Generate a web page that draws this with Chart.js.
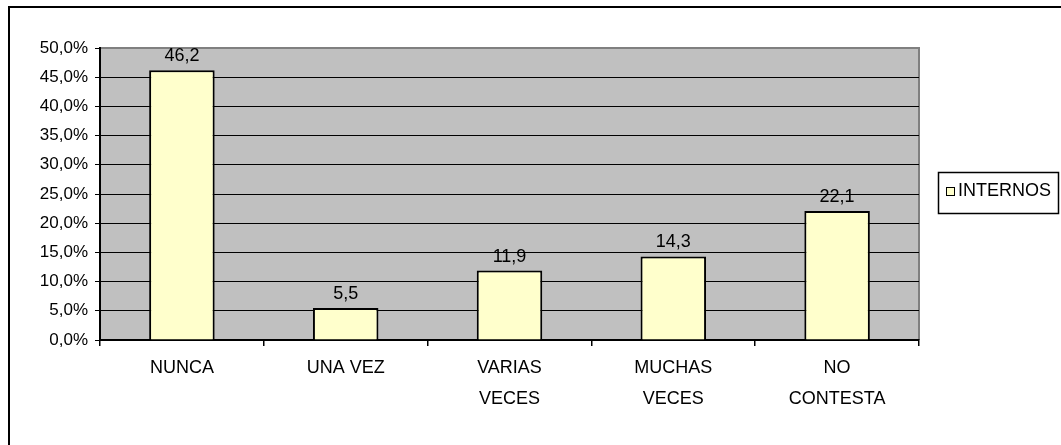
<!DOCTYPE html>
<html>
<head>
<meta charset="utf-8">
<script src="https://cdn.jsdelivr.net/npm/chart.js@4.4.0/dist/chart.umd.min.js"></script>
<style>
  html, body { margin: 0; padding: 0; background: #fff; }
  #wrap { width: 1061px; height: 445px; position: relative; }
</style>
</head>
<body>
<div id="wrap"><canvas id="graficoInternos"></canvas></div>
<script>
const categorias = ['NUNCA', 'UNA VEZ', ['VARIAS', 'VECES'], ['MUCHAS', 'VECES'], ['NO', 'CONTESTA']];
const internos = [46.2, 5.5, 11.9, 14.3, 22.1];
const nombreSerie = 'INTERNOS';
const marcasY = ['0,0%', '5,0%', '10,0%', '15,0%', '20,0%', '25,0%', '30,0%', '35,0%', '40,0%', '45,0%', '50,0%'];

const fuente = '"Liberation Sans", Arial, sans-serif';
Chart.defaults.font.family = fuente;
Chart.defaults.color = '#000';

// fondo gris del area de trazado y marco exterior
const fondoPlot = {
  id: 'fondoPlot',
  beforeDraw(chart) {
    const { ctx, chartArea: a } = chart;
    ctx.save();
    ctx.strokeStyle = '#000';
    ctx.lineWidth = 2;
    ctx.beginPath();
    ctx.moveTo(9, chart.height);
    ctx.lineTo(9, 7);
    ctx.lineTo(chart.width, 7);
    ctx.stroke();
    ctx.fillStyle = '#C0C0C0';
    ctx.fillRect(a.left, a.top, a.right - a.left, a.bottom - a.top);
    ctx.strokeStyle = '#808080';
    ctx.beginPath();
    ctx.moveTo(a.left, a.top);
    ctx.lineTo(a.right, a.top);
    ctx.lineTo(a.right, a.bottom);
    ctx.stroke();
    ctx.restore();
  }
};

// valores encima de cada barra
const etiquetas = {
  id: 'etiquetas',
  afterDatasetsDraw(chart) {
    const { ctx } = chart;
    const meta = chart.getDatasetMeta(0);
    const datos = chart.data.datasets[0].data;
    ctx.save();
    ctx.font = '18px ' + fuente;
    ctx.fillStyle = '#000';
    ctx.textAlign = 'center';
    ctx.textBaseline = 'alphabetic';
    meta.data.forEach((barra, i) => {
      ctx.fillText(datos[i].toFixed(1).replace('.', ','), barra.x, barra.y - 9);
    });
    ctx.restore();
  }
};

// leyenda en caja a la derecha
const leyenda = {
  id: 'leyenda',
  afterDraw(chart) {
    const { ctx } = chart;
    const ds = chart.data.datasets[0];
    ctx.save();
    ctx.strokeStyle = '#000';
    ctx.lineWidth = 1.5;
    ctx.strokeRect(938.5, 172.5, 120, 41);
    ctx.fillStyle = ds.backgroundColor;
    ctx.fillRect(946, 187, 8, 8);
    ctx.lineWidth = 1;
    ctx.strokeRect(946.5, 187.5, 8, 8);
    ctx.fillStyle = '#000';
    ctx.font = '18px ' + fuente;
    ctx.textBaseline = 'middle';
    ctx.textAlign = 'left';
    ctx.fillText(ds.label, 958, 191);
    ctx.restore();
  }
};

const ctx = document.getElementById('graficoInternos').getContext('2d');

const graficoInternos = new Chart(ctx, {
  type: 'bar',
  data: {
    labels: categorias,
    datasets: [{
      label: nombreSerie,
      data: internos,
      backgroundColor: '#FFFFCC',
      borderColor: '#000',
      borderWidth: 2,
      barPercentage: 0.4,
      categoryPercentage: 1
    }]
  },
  options: {
    responsive: true,
    maintainAspectRatio: false,
    animation: false,
    layout: {
      padding: { top: 48, right: 142, left: 0, bottom: 0 }
    },
    plugins: {
      legend: { display: false },
      tooltip: { enabled: false }
    },
    scales: {
      x: {
        afterFit(s) { s.height = 105; },
        border: { color: '#000', width: 2 },
        grid: {
          offset: true,
          drawOnChartArea: false,
          drawTicks: true,
          tickLength: 6,
          color: '#000',
          lineWidth: 1.5
        },
        ticks: {
          font: { size: 18, lineHeight: 1.7 },
          padding: 7,
          maxRotation: 0,
          autoSkip: false
        }
      },
      y: {
        min: 0,
        max: 50,
        afterFit(s) { s.width = 100; },
        border: { color: '#000', width: 2 },
        grid: {
          color: c => (c.tick && c.tick.value === 50) ? '#808080' : '#000',
          lineWidth: 1,
          tickColor: '#000',
          tickLength: 5
        },
        ticks: {
          stepSize: 5,
          padding: 7,
          font: { size: 17 },
          callback: (v, i) => marcasY[i]
        }
      }
    }
  },
  plugins: [fondoPlot, etiquetas, leyenda]
});
</script>
</body>
</html>
